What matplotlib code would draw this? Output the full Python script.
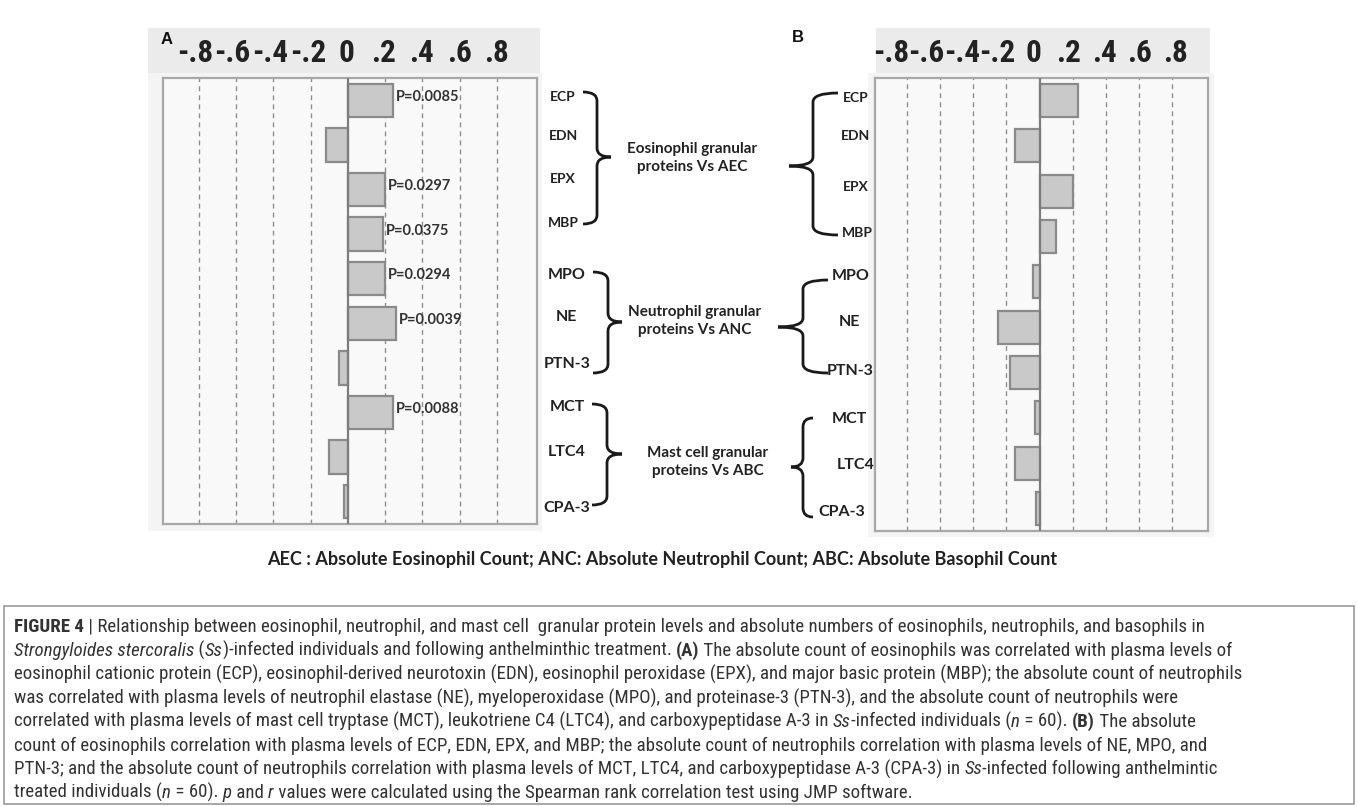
import re
import matplotlib
matplotlib.use("Agg")
import matplotlib.pyplot as plt
from matplotlib import font_manager
from matplotlib.font_manager import FontProperties
from matplotlib.path import Path
from matplotlib.patches import PathPatch, Rectangle
import numpy as np

# figure size in pixels (dpi 100)
W, H = 1358, 806

# data
proteins = ["ECP", "EDN", "EPX", "MBP", "MPO", "NE", "PTN-3", "MCT", "LTC4", "CPA-3"]
r_infected = [0.24, -0.12, 0.20, 0.19, 0.20, 0.26, -0.05, 0.24, -0.10, -0.02]
r_treated = [0.23, -0.15, 0.20, 0.10, -0.04, -0.25, -0.18, -0.03, -0.15, -0.02]
p_infected = ["P=0.0085", "", "P=0.0297", "P=0.0375", "P=0.0294", "P=0.0039", "", "P=0.0088", "", ""]
tick_vals = [-0.8, -0.6, -0.4, -0.2, 0, 0.2, 0.4, 0.6, 0.8]
tick_text = ["-.8", "-.6", "-.4", "-.2", "0", ".2", ".4", ".6", ".8"]
groups = ["Eosinophil granular\nproteins Vs AEC",
          "Neutrophil granular\nproteins Vs ANC",
          "Mast cell granular\nproteins Vs ABC"]
legend_line = "AEC : Absolute Eosinophil Count; ANC: Absolute Neutrophil Count; ABC: Absolute Basophil Count"

caption = [
    "<b>FIGURE 4</b> | Relationship between eosinophil, neutrophil, and mast cell  granular protein levels and absolute numbers of eosinophils, neutrophils, and basophils in",
    "<i>Strongyloides stercoralis</i> (<i>Ss</i>)-infected individuals and following anthelminthic treatment. <b>(A)</b> The absolute count of eosinophils was correlated with plasma levels of",
    "eosinophil cationic protein (ECP), eosinophil-derived neurotoxin (EDN), eosinophil peroxidase (EPX), and major basic protein (MBP); the absolute count of neutrophils",
    "was correlated with plasma levels of neutrophil elastase (NE), myeloperoxidase (MPO), and proteinase-3 (PTN-3), and the absolute count of neutrophils were",
    "correlated with plasma levels of mast cell tryptase (MCT), leukotriene C4 (LTC4), and carboxypeptidase A-3 in <i>Ss</i>-infected individuals (<i>n</i> = 60). <b>(B)</b> The absolute",
    "count of eosinophils correlation with plasma levels of ECP, EDN, EPX, and MBP; the absolute count of neutrophils correlation with plasma levels of NE, MPO, and",
    "PTN-3; and the absolute count of neutrophils correlation with plasma levels of MCT, LTC4, and carboxypeptidase A-3 (CPA-3) in <i>Ss</i>-infected following anthelmintic",
    "treated individuals (<i>n</i> = 60). <i>p</i> and <i>r</i> values were calculated using the Spearman rank correlation test using JMP software.",
]

LABEL = "Lato"


def wnum(w):
    try:
        return int(w)
    except (TypeError, ValueError):
        return {"bold": 700, "normal": 400, "regular": 400, "book": 400}.get(str(w).lower(), 400)


def narrow_fonts():
    """look for an installed condensed sans family, return regular/bold/italic files"""
    prefs = ["Roboto", "Liberation Sans", "Noto Sans", "DejaVu Sans", "Open Sans", "Lato", "Inter"]
    groups_ = {}
    for f in font_manager.fontManager.ttflist:
        nm = f.name
        if any(k in nm for k in ("Mono", "Serif", "CJK", "Math", "Symbol")):
            continue
        if ("Narrow" in nm or "Condensed" in nm or "condensed" in str(f.stretch)) and "Extra" not in nm \
                and "extra" not in str(f.stretch) and "ultra" not in str(f.stretch):
            groups_.setdefault((nm, str(f.stretch)), []).append(f)
    for p in prefs:
        for key, lst in groups_.items():
            if key[0].startswith(p):
                reg = [f for f in lst if f.style == "normal" and wnum(f.weight) == 400]
                bold = [f for f in lst if f.style == "normal" and wnum(f.weight) == 700]
                ital = [f for f in lst if f.style != "normal" and wnum(f.weight) == 400]
                if reg:
                    r = reg[0].fname
                    return r, (bold[0].fname if bold else r), (ital[0].fname if ital else r)
    return None


nf = narrow_fonts()
if nf:
    F_REG = FontProperties(fname=nf[0])
    F_BOLD = FontProperties(fname=nf[1])
    F_ITAL = FontProperties(fname=nf[2])
    head_size = 22.5
else:
    F_REG = FontProperties(family="Liberation Sans")
    F_BOLD = FontProperties(family="Liberation Sans", weight="bold")
    F_ITAL = FontProperties(family="Liberation Sans", style="italic")
    head_size = 17

fig = plt.figure(figsize=(W / 100, H / 100), dpi=100)
renderer = fig.canvas.get_renderer()


def rect(x0, y0, x1, y1):
    return [x0 / W, 1 - y1 / H, (x1 - x0) / W, (y1 - y0) / H]


# overlay in pixel coordinates for labels, braces and caption
ov = fig.add_axes([0, 0, 1, 1])
ov.set_xlim(0, W)
ov.set_ylim(H, 0)
ov.axis("off")

# faint JMP background behind each panel
ov.add_patch(Rectangle((148, 73), 394, 458, color="#f4f4f4", lw=0))
ov.add_patch(Rectangle((868, 73), 346, 464, color="#f4f4f4", lw=0))


def panel(box, head_box, head_lim, vals, height, plabels=None):
    ax = fig.add_axes(rect(*box))
    ax.set_facecolor("#f9f9f9")
    y = np.arange(len(proteins))
    for v in tick_vals:
        if v != 0:
            ax.axvline(v, color="#8f8f8f", lw=1.0, ls=(0, (3.5, 3)), zorder=1)
    ax.barh(y, vals, height=height, color="#c9c9c9", edgecolor="#8a8a8a", lw=1.6, zorder=2)
    ax.axvline(0, color="#7d7d7d", lw=1.6, zorder=3)
    ax.set_xlim(-0.993, 1.016)
    ax.set_ylim(len(proteins) - 0.5, -0.5)
    ax.set_xticks([])
    ax.set_yticks([])
    for s in ax.spines.values():
        s.set_color("#a8a8a8")
        s.set_linewidth(1.6)
    if plabels:
        for i, (v, t) in enumerate(zip(vals, plabels)):
            if t:
                ax.text(v + 0.016, i - 0.08, t, ha="left", va="center", fontsize=10.5,
                        fontweight="bold", family=LABEL, color="#333333", zorder=4)

    hx = fig.add_axes(rect(*head_box))
    hx.set_facecolor("#ebebeb")
    hx.set_xlim(*head_lim)
    hx.set_ylim(0, 1)
    hx.set_xticks([])
    hx.set_yticks([])
    for s in hx.spines.values():
        s.set_visible(False)
    hp = F_BOLD.copy()
    hp.set_size(head_size)
    for v, t in zip(tick_vals, tick_text):
        hx.text(v, 0.44, t, ha="center", va="center", fontproperties=hp, color="#222222")
    return ax


panel((163, 78, 537, 524), (148, 28, 540, 73), (-1.049, 1.028), r_infected, 0.75, p_infected)
panel((875, 78, 1208, 531), (876, 28, 1210, 73), (-0.885, 0.997), r_treated, 0.73)

fig.text(167 / W, 1 - 40 / H, "A", ha="center", va="center", fontsize=12, fontweight="bold",
         family="Liberation Sans", color="#111111")
fig.text(798 / W, 1 - 38 / H, "B", ha="center", va="center", fontsize=12, fontweight="bold",
         family="Liberation Sans", color="#111111")


def brace(x_hook, x_spine, x_tip, y_top, y_mid, y_bot, r=9):
    verts = [(x_hook, y_top), (x_spine, y_top), (x_spine, y_top + r),
             (x_spine, y_mid - r),
             (x_spine, y_mid), (x_tip, y_mid),
             (x_spine, y_mid), (x_spine, y_mid + r),
             (x_spine, y_bot - r),
             (x_spine, y_bot), (x_hook, y_bot)]
    codes = [Path.MOVETO, Path.CURVE3, Path.CURVE3, Path.LINETO,
             Path.CURVE3, Path.CURVE3, Path.CURVE3, Path.CURVE3,
             Path.LINETO, Path.CURVE3, Path.CURVE3]
    ov.add_patch(PathPatch(Path(verts, codes), fill=False, lw=2.0, ec="#1a1a1a"))


# protein labels beside each panel
lab_a = [(563, 97), (563, 136), (563, 179), (563, 223), (567, 275),
         (566, 317), (567, 364), (567, 407), (567, 452), (567, 508)]
lab_b = [(856, 98), (856, 136), (856, 187), (857, 233), (851, 276),
         (849, 322), (850, 371), (849, 419), (856, 465), (842, 512)]
for i, name in enumerate(proteins):
    fs = 10 if i < 4 else 11.5
    ov.text(*lab_a[i], name, ha="center", va="center", fontsize=fs, fontweight="bold",
            family=LABEL, color="#222222")
    ov.text(*lab_b[i], name, ha="center", va="center", fontsize=fs, fontweight="bold",
            family=LABEL, color="#222222")

# braces for panel A (pointing right)
brace(583, 597, 611, 92, 157, 224)
brace(593, 608, 622, 272, 322, 373)
brace(592, 607, 622, 404, 454, 505)
# braces for panel B (pointing left)
brace(838, 813, 789, 93, 166, 235)
brace(828, 803, 778, 280, 327, 373)
brace(813, 803, 791, 418, 467, 517)

for (x, y), g in zip([(692, 158), (695, 321), (708, 462)], groups):
    ov.text(x, y, g, ha="center", va="center", fontsize=11, fontweight="bold",
            family=LABEL, color="#222222", linespacing=1.35)

ov.text(662, 560, legend_line, ha="center", va="center", fontsize=13, fontweight="bold",
        family=LABEL, color="#222222")


# caption with mixed bold / italic runs
def parse(line):
    out = []
    for part in re.split(r"(<b>.*?</b>|<i>.*?</i>)", line):
        if not part:
            continue
        if part.startswith("<b>"):
            out.append((part[3:-4], F_BOLD))
        elif part.startswith("<i>"):
            out.append((part[3:-4], F_ITAL))
        else:
            out.append((part, F_REG))
    return out


def run_width(s, fp):
    w1, _, _ = renderer.get_text_width_height_descent("|" + s + "|", fp, ismath=False)
    w2, _, _ = renderer.get_text_width_height_descent("||", fp, ismath=False)
    return w1 - w2


def sized(fp, size):
    p = fp.copy()
    p.set_size(size)
    return p


# fit the caption size so the longest line spans like the reference
base = 12
w_long = sum(run_width(s, sized(fp, base)) for s, fp in parse(caption[2]))
cap_size = base * 1228 / w_long

ov.add_patch(Rectangle((4, 606), 1350, 198, fill=False, ec="#9a9a9a", lw=1.2))
for i, line in enumerate(caption):
    x = 14
    y = 627 + 23.7 * i
    for s, fp in parse(line):
        p = sized(fp, cap_size)
        ov.text(x, y, s, ha="left", va="center", fontproperties=p, color="#333333")
        x += run_width(s, p)

fig.savefig("out.png", dpi=100, facecolor="white")
